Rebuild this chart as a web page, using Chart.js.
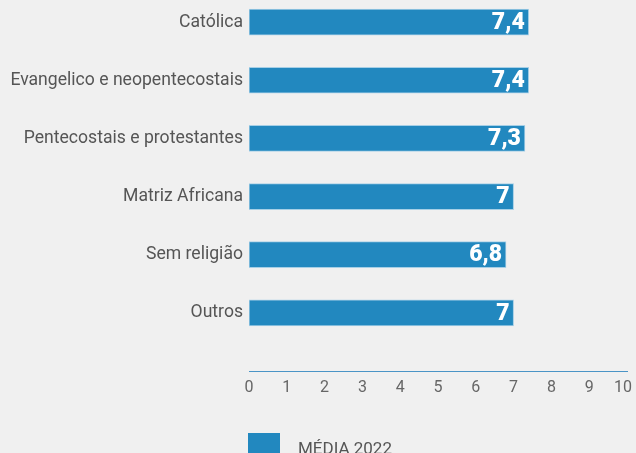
<!DOCTYPE html>
<html>
<head>
<meta charset="utf-8">
<script src="https://cdn.jsdelivr.net/npm/chart.js@4"></script>
<style>
  html, body { margin: 0; padding: 0; background: #f0f0f0; overflow: hidden; }
  #wrap { width: 636px; height: 453px; position: relative; }
</style>
</head>
<body>
<div id="wrap"><canvas id="mediaChart"></canvas></div>
<script>
// Média por religião (2022)
const categories = ['Católica', 'Evangelico e neopentecostais', 'Pentecostais e protestantes', 'Matriz Africana', 'Sem religião', 'Outros'];
const medias = [7.4, 7.4, 7.3, 7, 6.8, 7];
const seriesLabel = 'MÉDIA 2022';
const xMin = 0;
const xMax = 10;

const barColor = '#2288bf';

function fmt(v) {
  return String(v).replace('.', ',');
}

// white value at the end of each bar
const valueLabels = {
  id: 'valueLabels',
  afterDatasetsDraw(chart) {
    const ctx = chart.ctx;
    const meta = chart.getDatasetMeta(0);
    ctx.save();
    ctx.fillStyle = '#ffffff';
    ctx.font = '900 23px Roboto';
    ctx.textAlign = 'right';
    ctx.textBaseline = 'middle';
    meta.data.forEach((bar, i) => {
      ctx.fillText(fmt(medias[i]), bar.x - 4, bar.y + 1);
    });
    ctx.restore();
  }
};

// legend under the axis
const bottomLegend = {
  id: 'bottomLegend',
  afterDraw(chart) {
    const ctx = chart.ctx;
    const area = chart.chartArea;
    ctx.save();
    ctx.fillStyle = barColor;
    ctx.fillRect(area.left - 1, area.bottom + 62, 32, 24);
    ctx.fillStyle = '#555';
    ctx.font = '17px Roboto';
    ctx.textAlign = 'left';
    ctx.textBaseline = 'alphabetic';
    ctx.fillText(chart.data.datasets[0].label, area.left + 49, area.bottom + 83);
    ctx.restore();
  }
};

new Chart(document.getElementById('mediaChart'), {
  type: 'bar',
  data: {
    datasets: [{
      label: seriesLabel,
      data: medias.map((v, i) => ({ x: v, y: i })),
      backgroundColor: barColor,
      borderColor: '#a6cfe6',
      borderWidth: 1,
      borderSkipped: false,
      barThickness: 26
    }]
  },
  plugins: [valueLabels, bottomLegend],
  options: {
    indexAxis: 'y',
    responsive: true,
    maintainAspectRatio: false,
    animation: false,
    layout: { padding: { left: 0, right: 0, top: 0, bottom: 52 } },
    plugins: {
      legend: { display: false },
      tooltip: { enabled: false }
    },
    scales: {
      y: {
        type: 'linear',
        reverse: true,
        offset: false,
        min: -0.38,
        max: 6.0,
        afterBuildTicks(scale) {
          scale.ticks = categories.map((c, i) => ({ value: i }));
        },
        afterFit(scale) {
          scale.width = 249;
          scale.paddingTop = 0;
          scale.paddingBottom = 0;
        },
        grid: { display: false, drawTicks: false },
        border: { display: false },
        ticks: {
          color: '#555',
          font: { family: 'Roboto', size: 17.6 },
          padding: 6,
          callback: (v) => categories[v]
        }
      },
      x: {
        min: xMin,
        max: xMax,
        afterFit(scale) {
          scale.height = 30;
          scale.paddingLeft = 0;
          scale.paddingRight = 9;
        },
        grid: { display: false, drawTicks: false },
        border: { display: true, color: '#4a94c6', width: 1 },
        ticks: {
          stepSize: 1,
          color: '#666',
          font: { family: 'Roboto', size: 16 },
          padding: 7,
          maxRotation: 0,
          // keep the last label inside the canvas
          callback: (v) => (v === xMax ? v + '\u2002' : String(v))
        }
      }
    }
  }
});
</script>
</body>
</html>
